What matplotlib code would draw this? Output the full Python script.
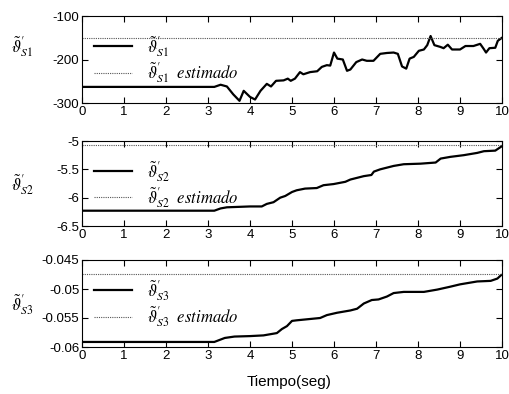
import matplotlib
matplotlib.use("Agg")
import matplotlib.pyplot as plt
import numpy as np

plt.rcParams['mathtext.fontset'] = 'stix'
plt.rcParams['font.family'] = ['Liberation Sans', 'DejaVu Sans']

t_end = 10.0

# Series 1
t1 = [0, 3.15, 3.3, 3.45, 3.6, 3.75, 3.85, 4.0, 4.12, 4.25, 4.4, 4.5, 4.62, 4.8, 4.9, 4.97, 5.07,
      5.19, 5.27, 5.43, 5.6, 5.71, 5.83, 5.91, 6.0, 6.08, 6.21, 6.31, 6.39, 6.53, 6.67, 6.78,
      6.94, 7.1, 7.26, 7.42, 7.52, 7.62, 7.72, 7.8, 7.9, 8.02, 8.14, 8.22, 8.3, 8.39, 8.53,
      8.61, 8.71, 8.81, 9.0, 9.13, 9.32, 9.48, 9.56, 9.62, 9.7, 9.84, 9.9, 10.0]
s1 = [-263, -263, -258, -262, -280, -295, -272, -286, -292, -272, -256, -262, -249, -248, -244,
      -249, -244, -229, -234, -229, -227, -217, -213, -214, -184, -198, -200, -226, -223, -206,
      -200, -203, -203, -187, -185, -184, -187, -216, -221, -198, -194, -180, -177, -167, -146,
      -167, -171, -174, -166, -177, -177, -169, -169, -164, -175, -184, -174, -173, -157, -150]
s1_est = -150

# Series 2
t2 = [0, 3.15, 3.3, 3.45, 4.0, 4.28, 4.4, 4.56, 4.72, 4.84, 5.0, 5.11, 5.31, 5.59, 5.75, 5.99,
      6.27, 6.39, 6.71, 6.89, 6.95, 7.1, 7.26, 7.42, 7.66, 8.06, 8.42, 8.54, 8.77, 9.09, 9.41,
      9.57, 9.84, 9.92, 10.0]
s2 = [-6.23, -6.23, -6.19, -6.17, -6.155, -6.155, -6.11, -6.08, -6.0, -5.97, -5.9, -5.87, -5.84,
      -5.83, -5.78, -5.76, -5.72, -5.68, -5.62, -5.60, -5.54, -5.50, -5.47, -5.44, -5.41, -5.40,
      -5.38, -5.31, -5.28, -5.25, -5.21, -5.18, -5.17, -5.13, -5.09]
s2_est = -5.07

# Series 3
t3 = [0, 3.15, 3.4, 3.63, 4.0, 4.32, 4.64, 4.76, 4.88, 5.0, 5.11, 5.67, 5.83, 6.07, 6.39, 6.55,
      6.71, 6.9, 7.06, 7.26, 7.42, 7.66, 8.14, 8.46, 8.77, 9.0, 9.41, 9.73, 9.89, 9.98]
s3 = [-0.05913, -0.05913, -0.05844, -0.0582, -0.05812, -0.0580, -0.0576, -0.0569, -0.0564,
      -0.0555, -0.0554, -0.0550, -0.0545, -0.0541, -0.0537, -0.0534, -0.0525, -0.0519, -0.0518,
      -0.0513, -0.0507, -0.0505, -0.0505, -0.0501, -0.0496, -0.0492, -0.0487, -0.0486, -0.0482,
      -0.0476]
s3_est = -0.04748

xticks = list(range(0, 11))
yticks1 = [-300, -200, -100]
yticks2 = [-6.5, -6, -5.5, -5]
yticks3 = [-0.06, -0.055, -0.05, -0.045]
ytl1 = ['-300', '-200', '-100']
ytl2 = ['-6.5', '-6', '-5.5', '-5']
ytl3 = ['-0.06', '-0.055', '-0.05', '-0.045']
names = ['S1', 'S2', 'S3']

W, H = 509, 394
fig = plt.figure(figsize=(W / 100, H / 100), dpi=100)

boxes = [(82, 16, 502, 103), (82, 141, 502, 226), (82, 260, 502, 347)]
data = [(t1, s1, s1_est, yticks1, ytl1), (t2, s2, s2_est, yticks2, ytl2), (t3, s3, s3_est, yticks3, ytl3)]
label_y = [47, 185, 305]

def sym(name):
    return r"\tilde{\vartheta}^{\prime}_{%s}" % name

for i, ((x0, y0, x1, y1), (t, s, est, yt, ytl)) in enumerate(zip(boxes, data)):
    ax = fig.add_axes([x0 / W, 1 - y1 / H, (x1 - x0) / W, (y1 - y0) / H])
    name = names[i]
    ax.plot(t, s, color='black', lw=1.6, label="$" + sym(name) + "$")
    ax.plot([0, t_end], [est, est], color='#555555', lw=0.8, ls=(0, (1, 1)),
            label="$" + sym(name) + r"\ \ estimado$")
    ax.set_xlim(0, t_end)
    ax.set_ylim(yt[0], yt[-1])
    ax.set_xticks(xticks)
    ax.set_xticklabels([str(v) for v in xticks])
    ax.set_yticks(yt)
    ax.set_yticklabels(ytl)
    ax.tick_params(direction='in', top=True, right=True, length=4, width=0.8,
                   labelsize=9.5, pad=2)
    for sp in ax.spines.values():
        sp.set_linewidth(0.8)
    ax.legend(loc='upper left', bbox_to_anchor=(0.0, 0.93), frameon=False,
              fontsize=12, handlelength=2.3, handletextpad=0.9,
              labelspacing=0.1, borderaxespad=0.3)
    fig.text(22 / W, 1 - label_y[i] / H, "$" + sym(name) + "$",
             fontsize=12, ha='center', va='center')

fig.text(289 / W, 1 - 382 / H, 'Tiempo(seg)', fontsize=11, ha='center', va='center')

fig.savefig('out.png', dpi=100)
